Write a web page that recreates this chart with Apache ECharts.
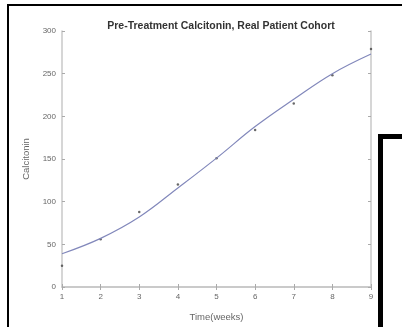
<!DOCTYPE html>
<html>
<head>
<meta charset="utf-8">
<script src="https://cdn.jsdelivr.net/npm/echarts@6/dist/echarts.min.js"></script>
<style>
  html, body { margin: 0; padding: 0; background: #fff; }
  #main { width: 402px; height: 327px; }
</style>
</head>
<body>
<div id="main"></div>
<script>
// weeks on the x axis
var weeks = [1, 2, 3, 4, 5, 6, 7, 8, 9];
// measured calcitonin (dots)
var observed = [25, 56, 88, 120, 151, 184, 215, 248, 279];
// fitted curve
var fitted = [39, 57, 82, 116, 151, 188, 220, 250, 273];

var chart = echarts.init(document.getElementById('main'));

var axisGray = '#c8c8c8';
var labelGray = '#666';

chart.setOption({
  animation: false,
  title: {
    text: 'Pre-Treatment Calcitonin, Real Patient Cohort',
    left: 216, top: 16, textAlign: 'center',
    textStyle: { fontFamily: 'Liberation Sans', fontSize: 10.5, fontWeight: 'bold', color: '#333' }
  },
  grid: { left: 62, right: 31, top: 31, bottom: 34 },
  xAxis: [{
    type: 'value', min: 1, max: 9, interval: 1,
    name: 'Time(weeks)', nameLocation: 'middle', nameGap: 25,
    nameTextStyle: { fontFamily: 'Liberation Sans', fontSize: 9.5, color: labelGray },
    axisLine: { lineStyle: { color: axisGray, width: 1.5 } },
    axisTick: { inside: true, length: 3, lineStyle: { color: '#aaa' } },
    axisLabel: { fontFamily: 'Liberation Sans', fontSize: 8, color: labelGray, margin: 6 },
    splitLine: { show: false }
  }, {
    type: 'value', position: 'top', min: 1, max: 9, interval: 1,
    axisLine: { show: true, lineStyle: { color: axisGray, width: 1.5 } },
    axisTick: { inside: true, length: 3, lineStyle: { color: '#aaa' } },
    axisLabel: { show: false }, splitLine: { show: false }
  }],
  yAxis: [{
    type: 'value', min: 0, max: 300, interval: 50,
    name: 'Calcitonin', nameLocation: 'middle', nameGap: 27, nameRotate: 90,
    nameTextStyle: { fontFamily: 'Liberation Sans', fontSize: 9.5, color: labelGray },
    axisLine: { show: true, lineStyle: { color: axisGray, width: 1.5 } },
    axisTick: { show: true, inside: true, length: 3, lineStyle: { color: '#aaa' } },
    axisLabel: { fontFamily: 'Liberation Sans', fontSize: 8, color: labelGray, margin: 6 },
    splitLine: { show: false }
  }, {
    type: 'value', position: 'right', min: 0, max: 300, interval: 50,
    axisLine: { show: true, lineStyle: { color: axisGray, width: 1.5 } },
    axisTick: { show: true, inside: true, length: 3, lineStyle: { color: '#aaa' } },
    axisLabel: { show: false }, splitLine: { show: false }
  }],
  series: [{
    type: 'line', name: 'fit', smooth: 0.4, showSymbol: false,
    data: weeks.map(function (w, i) { return [w, fitted[i]]; }),
    lineStyle: { color: '#8288bb', width: 1.2 }
  }, {
    type: 'scatter', name: 'data', symbolSize: 2.5,
    data: weeks.map(function (w, i) { return [w, observed[i]]; }),
    itemStyle: { color: '#444' }
  }],
  graphic: [
    { type: 'rect', shape: { x: 7, y: 4, width: 2, height: 330 }, style: { fill: '#000' } },
    { type: 'rect', shape: { x: 7, y: 4, width: 400, height: 2 }, style: { fill: '#000' } },
    { type: 'rect', shape: { x: 378, y: 134, width: 5, height: 200 }, style: { fill: '#000' } },
    { type: 'rect', shape: { x: 378, y: 134, width: 30, height: 5 }, style: { fill: '#000' } }
  ]
});
</script>
</body>
</html>
